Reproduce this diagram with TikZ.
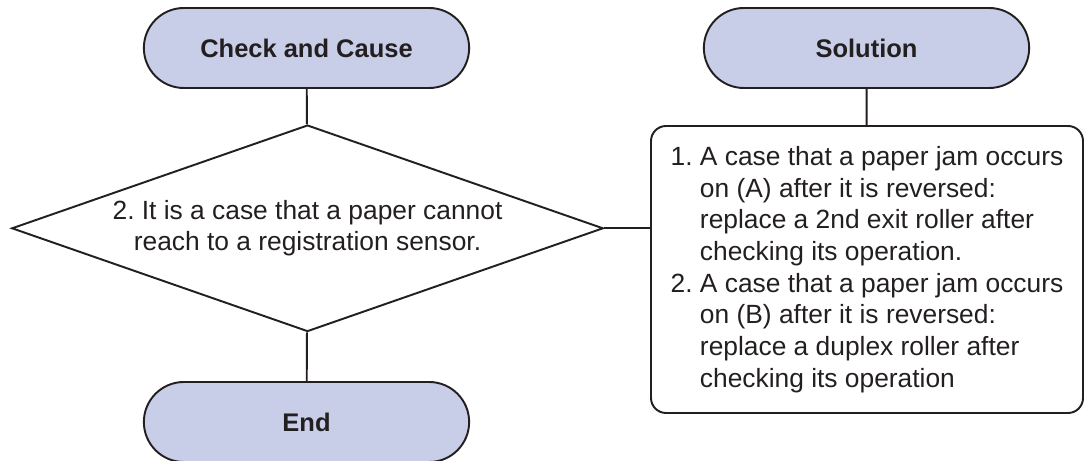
\documentclass[tikz,border=0pt]{standalone}
\usepackage{fontspec}
\setmainfont{Liberation Sans}
\usetikzlibrary{shapes.geometric,shapes.misc}
\definecolor{pillfill}{RGB}{201,206,232}
\definecolor{ink}{RGB}{35,31,32}
\frenchspacing

\begin{document}
\begin{tikzpicture}[
    terminal/.style={rounded rectangle, draw=ink, fill=pillfill, text=ink, minimum width=6.74cm, minimum height=1.6cm, font=\fontsize{14.5pt}{17pt}\selectfont\bfseries},
    decision/.style={diamond, draw=ink, text=ink, aspect=2.86, inner sep=0pt, minimum width=11.83cm, minimum height=4.13cm, align=center, font=\fontsize{15pt}{18pt}\selectfont},
    answer/.style={rectangle, rounded corners=0.3cm, draw=ink, text=ink, minimum width=8.64cm, minimum height=5.74cm, align=left, font=\fontsize{15pt}{18pt}\selectfont},
    line width=1.1pt, draw=ink
]
    \useasboundingbox (0,0) rectangle (21.68,-9.22);

    % Cabeceras de las dos columnas
    \node[terminal] (cause) at (6.13,-0.96) {Check and Cause};
    \node[terminal] (sol) at (17.33,-0.96) {Solution};

    % Comprobación y solución
    \node[decision] (test) at (6.15,-4.566) {2. It is a case that a paper cannot\\reach to a registration sensor.};
    \node[answer] (fix) at (17.34,-5.39) {1. A case that a paper jam occurs\\
        \hphantom{1.}\ on (A) after it is reversed:\\
        \hphantom{1.}\ replace a 2nd exit roller after\\
        \hphantom{1.}\ checking its operation.\\
        2. A case that a paper jam occurs\\
        \hphantom{2.}\ on (B) after it is reversed:\\
        \hphantom{2.}\ replace a duplex roller after\\
        \hphantom{2.}\ checking its operation};

    % Final
    \node[terminal] (fin) at (6.13,-8.44) {End};

    % Conexiones
    \draw[ink] (cause) -- (test);
    \draw[ink] (test) -- (fin);
    \draw[ink] (sol) -- (fix);
    \draw[ink] (test.east) -- (test.east -| fix.west);
\end{tikzpicture}
\end{document}
